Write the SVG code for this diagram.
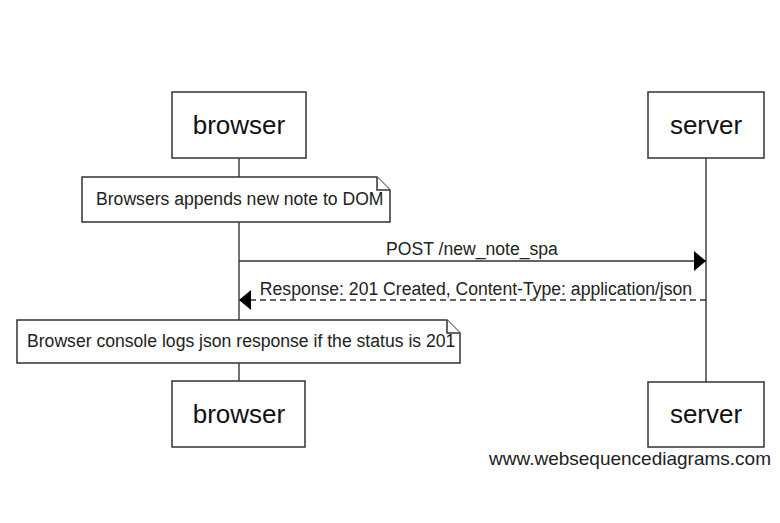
<svg xmlns="http://www.w3.org/2000/svg" width="780" height="523" viewBox="0 0 780 523">
<style>
.box{fill:#fff;stroke:#333;stroke-width:1.5}
.life{stroke:#444;stroke-width:1.5;fill:none}
.pt{font-family:"Liberation Sans",Arial,sans-serif;font-size:26px;fill:#111;text-anchor:middle}
.t{font-family:"Liberation Sans",Arial,sans-serif;font-size:17.6px;fill:#222}
.msg{stroke:#333;stroke-width:1.5;fill:none}
</style>
<defs>
<marker id="ah" viewBox="0 0 12 20" refX="12" refY="10" markerWidth="12" markerHeight="20" markerUnits="userSpaceOnUse" orient="auto">
<path d="M0,0 L12,10 L0,20 Z" fill="#000"/>
</marker>
</defs>
<rect width="780" height="523" fill="#fff"/>
<g id="lifelines">
<line class="life" x1="239" y1="158" x2="239" y2="381"/>
<line class="life" x1="706" y1="158" x2="706" y2="382"/>
</g>
<g id="browser-top"><rect class="box" x="172" y="92" width="134" height="66"/><text class="pt" x="239" y="134">browser</text></g>
<g id="server-top"><rect class="box" x="648" y="92" width="116" height="66"/><text class="pt" x="706" y="134">server</text></g>
<g id="note1"><path class="box" d="M82,177 H377 L390,190 V222 H82 Z"/><path class="box" d="M377,177 V190 H390" fill="none"/><text class="t" x="96" y="205">Browsers appends new note to DOM</text></g>
<g id="connectors">
<line class="msg" x1="239" y1="261" x2="706" y2="261" marker-end="url(#ah)"/>
<text class="t" x="472" y="255" text-anchor="middle">POST /new_note_spa</text>
<line class="msg" x1="706" y1="300" x2="239" y2="300" stroke-dasharray="6,4" marker-end="url(#ah)"/>
<text class="t" x="476" y="295" text-anchor="middle">Response: 201 Created, Content-Type: application/json</text>
</g>
<g id="note2"><path class="box" d="M17,320 H447 L460,333 V363 H17 Z"/><path class="box" d="M447,320 V333 H460" fill="none"/><text class="t" x="27" y="347">Browser console logs json response if the status is 201</text></g>
<g id="browser-bottom"><rect class="box" x="172" y="381" width="133" height="66"/><text class="pt" x="239" y="423">browser</text></g>
<g id="server-bottom"><rect class="box" x="648" y="382" width="116" height="65"/><text class="pt" x="706" y="423">server</text></g>
<text class="t" x="630" y="465" text-anchor="middle" style="font-size:19px">www.websequencediagrams.com</text>
</svg>
